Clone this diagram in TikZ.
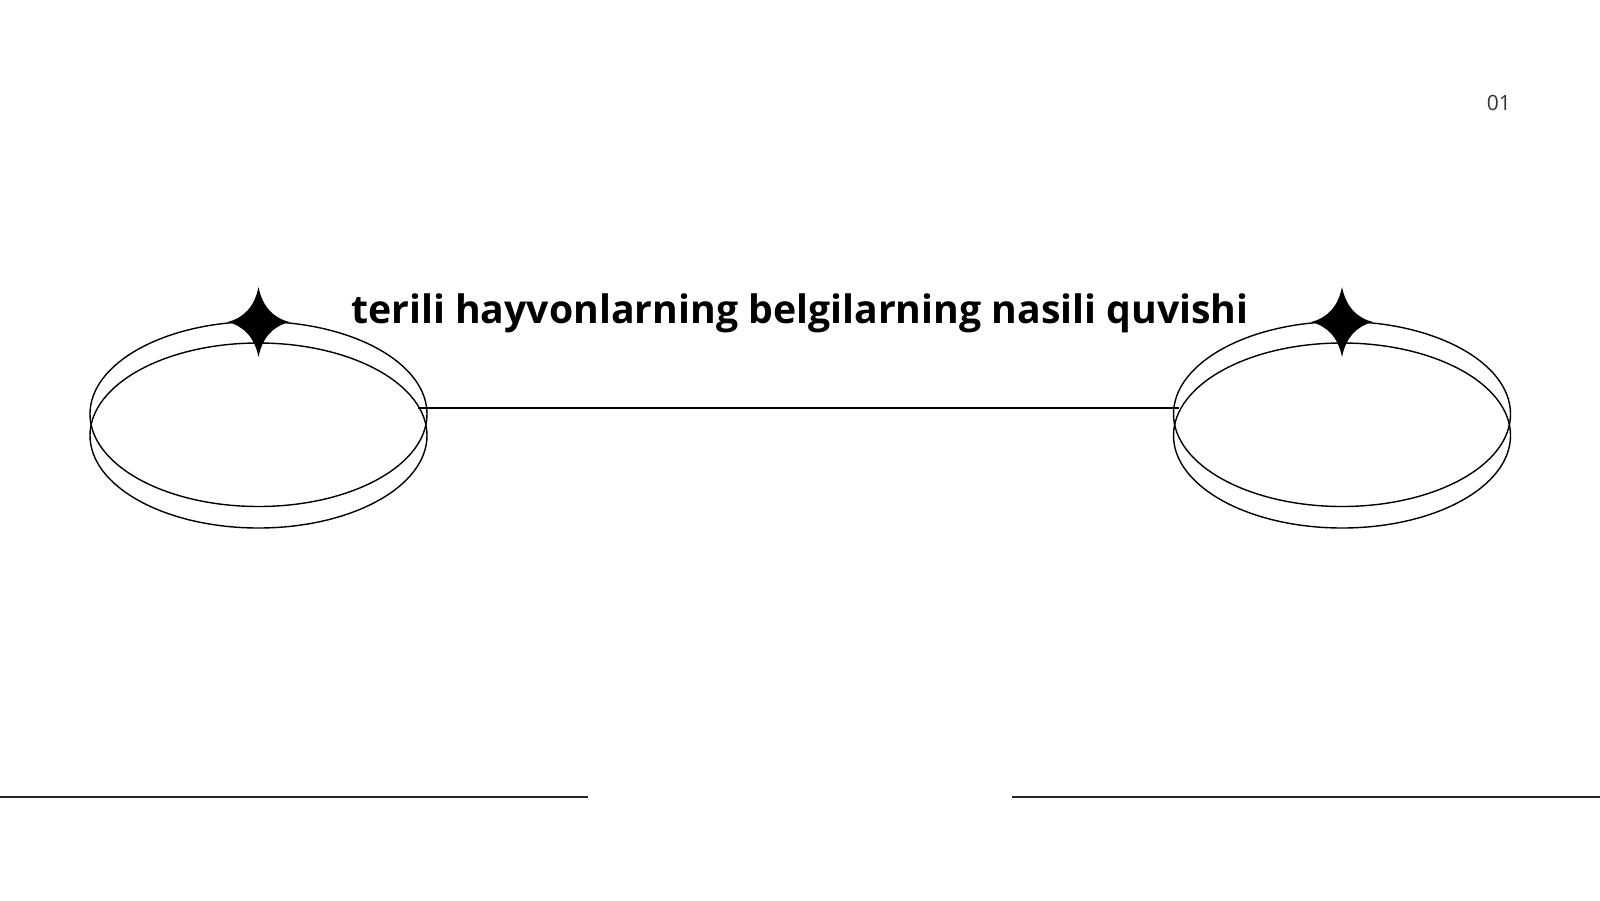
\documentclass[tikz,border=0pt]{standalone}
\usepackage{fontspec}
\setmainfont{Open Sans}
\usetikzlibrary{shapes.geometric,calc}
\tikzset{
  ring/.style={draw=black, line width=1.4pt, ellipse, minimum width=337pt, minimum height=185pt, inner sep=0pt},
  rule/.style={draw=black!85, line width=1.6pt},
  link/.style={draw=black, line width=1.4pt},
  sparkle/.style={fill=black},
}
\newcommand{\mysparkle}[1]{%
  \fill[sparkle] ($(#1)+(0,-35)$) .. controls ($(#1)+(4,-15)$) and ($(#1)+(15,-4)$) .. ($(#1)+(31,0)$)
    .. controls ($(#1)+(15,4)$) and ($(#1)+(4,15)$) .. ($(#1)+(0,35)$)
    .. controls ($(#1)+(-4,15)$) and ($(#1)+(-15,4)$) .. ($(#1)+(-31,0)$)
    .. controls ($(#1)+(-15,-4)$) and ($(#1)+(-4,-15)$) .. cycle;}
\begin{document}
\begin{tikzpicture}[x=1pt,y=-1pt]
\useasboundingbox[fill=white] (0,0) rectangle (1600,900);
% left pair of ellipses
\node[ring] (LA) at (258.5,414) {};
\node[ring] (LB) at (258.5,435.5) {};
% right pair
\node[ring] (RA) at (1342,414) {};
\node[ring] (RB) at (1342,435.5) {};
% sparkles
\coordinate (LS) at (258.5,322);
\coordinate (RS) at (1342,322);
\mysparkle{LS}
\mysparkle{RS}
% connector
\coordinate (L1) at (418,408);
\coordinate (R1) at (1179,408);
\draw[link] (L1) -- (R1);
% title
\node[font=\fontsize{39.2}{44}\selectfont\bfseries, anchor=base, inner sep=0pt] (title) at (800,323) {terili hayvonlarning belgilarning nasili quvishi};
% page number
\node[font=\fontsize{21}{24}\selectfont, text=black!80, anchor=base east, inner sep=0pt] (num) at (1511,110) {01};
% bottom rules
\coordinate (B1) at (0,797);
\coordinate (B2) at (588,797);
\coordinate (B3) at (1012,797);
\coordinate (B4) at (1600,797);
\draw[rule] (B1) -- (B2);
\draw[rule] (B3) -- (B4);
\end{tikzpicture}
\end{document}
